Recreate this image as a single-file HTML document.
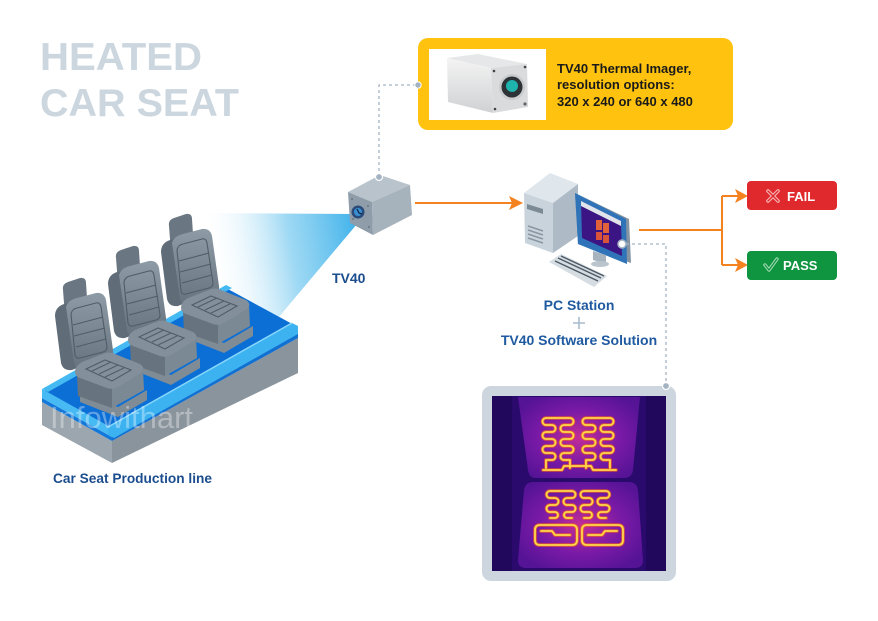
<!DOCTYPE html>
<html><head><meta charset="utf-8"><style>
html,body{margin:0;padding:0;background:#fff;}
svg{display:block;font-family:"Liberation Sans",Arial,sans-serif;}
</style></head><body>
<svg width="878" height="621" viewBox="0 0 878 621" xmlns="http://www.w3.org/2000/svg">
<defs>
  <linearGradient id="beam" gradientUnits="userSpaceOnUse" x1="357" y1="220" x2="205" y2="245">
    <stop offset="0" stop-color="#3fb2ea"/>
    <stop offset="0.45" stop-color="#86cff1" stop-opacity="0.8"/>
    <stop offset="1" stop-color="#ffffff" stop-opacity="0"/>
  </linearGradient>
  <linearGradient id="seatG" x1="0" y1="0" x2="0" y2="1">
    <stop offset="0" stop-color="#8e9ba6"/>
    <stop offset="1" stop-color="#67747f"/>
  </linearGradient>
  <linearGradient id="camSide" x1="0" y1="0" x2="0" y2="1">
    <stop offset="0" stop-color="#f4f4f4"/>
    <stop offset="1" stop-color="#cfd1d3"/>
  </linearGradient>
  <radialGradient id="thermo" cx="0.5" cy="0.5" r="0.6">
    <stop offset="0" stop-color="#c22d96"/>
    <stop offset="0.55" stop-color="#7a1aa6"/>
    <stop offset="1" stop-color="#551396"/>
  </radialGradient>
  <g id="seat">
    <!-- base -->
    <path d="M80,392 L118,407 L147,390 L147,400 L118,417 L80,402 Z" fill="#7f8c96"/>
    <!-- headrest -->
    <path d="M63,290 Q62,284 68,282 L80,278 Q86,277 86,283 L87,298 Q87,303 82,304 L70,307 Q64,308 64,303 Z" fill="#6a7782"/>
    <!-- backrest side -->
    <path d="M55,316 Q55,307 64,304 L70,302 L82,366 L72,370 Q63,371 61,363 Z" fill="#606d78"/>
    <!-- backrest front -->
    <path d="M66,307 Q68,300 77,298 L96,293 Q104,292 106,300 L113,350 Q114,358 107,360 L82,368 Q75,369 74,362 Z" fill="url(#seatG)"/>
    <path d="M71,314 Q72,309 77,308 L96,303 Q100,302 101,307 L107,347 Q107,351 103,352 L80,358 Q76,359 75,355 Z" fill="none" stroke="#505d67" stroke-width="1.1"/>
    <path d="M73,325 L103,317 M74,336 L105,328 M76,347 L106,339" stroke="#505d67" stroke-width="1.1" fill="none"/>
    <!-- cushion faces -->
    <path d="M77,375 L112,388 L112,408 L78,396 Z" fill="#67747f"/>
    <path d="M112,388 L143,369 L144,390 L112,408 Z" fill="#7b8994"/>
    <path d="M75,372 Q75,366 82,362 L103,354 Q109,351 115,354 L140,364 Q146,368 141,373 L118,387 Q113,390 107,388 L80,378 Q75,376 75,372 Z" fill="#83909b"/>
    <path d="M86,369 L105,360 L131,370 L112,381 Z" fill="none" stroke="#505d67" stroke-width="1.1"/>
    <path d="M92,371 L111,362 M99,374 L118,365 M105,377 L124,368" stroke="#505d67" stroke-width="1" fill="none"/>
  </g>
</defs>

<rect width="878" height="621" fill="#fff"/>

<!-- Title -->
<text x="40" y="70" font-size="39" font-weight="bold" fill="#cbd6df" textLength="162" lengthAdjust="spacingAndGlyphs">HEATED</text>
<text x="40" y="116" font-size="39" font-weight="bold" fill="#cbd6df" textLength="199" lengthAdjust="spacingAndGlyphs">CAR SEAT</text>

<!-- Yellow info box -->
<rect x="418" y="38" width="315" height="92" rx="10" fill="#ffc30f"/>
<rect x="429" y="49" width="117" height="71" fill="#fff"/>
<path d="M447,58 L478,54 L527,64 L491,68 Z" fill="#e6e7e8"/>
<path d="M447,58 L491,68 L493,113 L448,102 Z" fill="url(#camSide)"/>
<path d="M491,68 L527,64 L528,107 L493,113 Z" fill="#d9dbdd"/>
<circle cx="512" cy="87" r="13" fill="#c9cbcd"/>
<circle cx="512" cy="87" r="10.5" fill="#2d3236"/>
<circle cx="512" cy="86" r="6" fill="#1fb3ad"/>
<circle cx="494" cy="71" r="1.3" fill="#444"/>
<circle cx="525" cy="67" r="1.3" fill="#444"/>
<circle cx="495" cy="109" r="1.3" fill="#444"/>
<circle cx="525" cy="104" r="1.6" fill="#666"/>
<text font-size="13" font-weight="bold" fill="#1a1a1a">
  <tspan x="557" y="73">TV40 Thermal Imager,</tspan>
  <tspan x="557" y="89">resolution options:</tspan>
  <tspan x="557" y="106">320 x 240 or 640 x 480</tspan>
</text>

<!-- dotted connector camera -> box -->
<path d="M379,177 V85 H418" fill="none" stroke="#a3b3c2" stroke-width="1.3" stroke-dasharray="3,3"/>
<circle cx="418" cy="85" r="3.2" fill="#a3b3c2" stroke="#fff" stroke-width="1"/>

<!-- Beam -->
<path d="M357,214 L200,213 L200,322 L278,318 L357,224 Z" fill="url(#beam)"/>

<!-- Conveyor -->
<path d="M42,402 L112,441 L112,463 L42,425 Z" fill="#9ca6ae"/>
<path d="M112,441 L298,338 L298,373 L112,463 Z" fill="#8a949c"/>
<path d="M42,398 L112,437 L112,441 L42,402 Z" fill="#1478d8"/>
<path d="M112,437 L298,333 L298,338 L112,441 Z" fill="#1270d0"/>
<path d="M42,392 L226,288 L296,326 L112,430 Z" fill="#0c6fd6"/>
<path d="M42,389 L226,285 L232,288 L48,392 Z" fill="#45b9f2"/>
<path d="M42,389 L112,428 L112,437 L42,398 Z" fill="#47baf3"/>
<path d="M108,427 L292,323 L298,326 L298,334 L114,438 L108,435 Z" fill="#3db2f0"/>
<path d="M108,427 L292,323" stroke="#86d6fb" stroke-width="1.5"/>

<!-- Seats -->
<use href="#seat" transform="translate(106,-64)"/>
<use href="#seat" transform="translate(53,-32)"/>
<use href="#seat"/>

<!-- watermark -->
<text x="50" y="428" font-size="31" fill="#ffffff" fill-opacity="0.35">Infowithart</text>

<text x="53" y="483" font-size="14" font-weight="bold" fill="#1b4d8e" textLength="159" lengthAdjust="spacingAndGlyphs">Car Seat Production line</text>

<!-- TV40 camera -->
<path d="M348,192 L380,175 L410,185 L372,202 Z" fill="#b8c3cc"/>
<path d="M348,192 L372,202 L373,235 L350,223 Z" fill="#8f9daa"/>
<path d="M372,202 L410,185 L412,215 L373,235 Z" fill="#a6b2bc"/>
<circle cx="379" cy="177" r="3.5" fill="#a3b3c2" stroke="#fff" stroke-width="1.2"/>
<circle cx="358" cy="212" r="6.5" fill="#2b4c7a"/>
<circle cx="358" cy="212" r="4" fill="#3a8fd0"/>
<path d="M357,209 L359,213 L362,214" stroke="#0e2340" stroke-width="1.2" fill="none"/>
<circle cx="352" cy="199" r="0.9" fill="#5d6b78"/>
<circle cx="368" cy="206" r="0.9" fill="#5d6b78"/>
<circle cx="353" cy="219" r="0.9" fill="#5d6b78"/>
<circle cx="369" cy="227" r="0.9" fill="#5d6b78"/>
<text x="332" y="283" font-size="14" font-weight="bold" fill="#1b4d8e">TV40</text>

<!-- orange arrow camera -> PC -->
<path d="M415,203 H515" stroke="#f58220" stroke-width="2"/>
<path d="M509,196 L523,203 L509,210 L512,203 Z" fill="#f58220"/>

<!-- PC tower -->
<path d="M524,193 L550,173 L578,184 L553,203 Z" fill="#dfe6ec"/>
<path d="M524,193 L553,203 L553,253 L525,243 Z" fill="#c9d3dc"/>
<path d="M553,203 L578,184 L578,236 L553,253 Z" fill="#aebbc6"/>
<path d="M527,204 L543,209 L543,214 L527,209 Z" fill="#7c8a96"/>
<path d="M528,226 L543,231 M528,230 L543,235 M528,234 L543,239 M528,238 L543,243" stroke="#8a97a3" stroke-width="1.6"/>
<!-- monitor -->
<path d="M575,193 L629,219 L631,263 L578,244 Z" fill="#8694a1"/>
<path d="M575,193 L626,219 L627,264 L578,244 Z" fill="#2f74b9"/>
<path d="M581,201 L621,221 L622,256 L582,238 Z" fill="#3c1584"/>
<path d="M581,201 L621,221 L621,226 L581,206 Z" fill="#dfe5ea"/>
<rect x="596" y="220" width="6" height="10" fill="#e0613a"/>
<rect x="603" y="223" width="6" height="10" fill="#e0613a"/>
<rect x="596" y="232" width="6" height="8" fill="#d9533a"/>
<rect x="603" y="235" width="6" height="8" fill="#d9533a"/>
<path d="M593,251 L606,255 L606,264 L593,260 Z" fill="#a7b4bf"/>
<ellipse cx="600" cy="264" rx="9" ry="3" fill="#b9c4cd"/>
<!-- keyboard -->
<path d="M549,262 L561,254 L607,276 L594,287 Z" fill="#d5dde3"/>
<path d="M555,261 L598,281 M558,258 L601,278 M561,256 L604,276" stroke="#4d5863" stroke-width="1.4"/>
<circle cx="622" cy="244" r="4" fill="#fff" stroke="#a3b3c2" stroke-width="1.5"/>

<!-- dotted connector monitor -> thermal image -->
<path d="M626,244 H666 V385" fill="none" stroke="#a3b3c2" stroke-width="1.3" stroke-dasharray="3,3"/>

<text x="579" y="310" font-size="14" font-weight="bold" fill="#1f5aa0" text-anchor="middle">PC Station</text>
<path d="M573,323 H585 M579,317 V329" stroke="#a9bccd" stroke-width="1.6"/>
<text x="579" y="345" font-size="14" font-weight="bold" fill="#1f5aa0" text-anchor="middle">TV40 Software Solution</text>

<!-- orange split to FAIL / PASS -->
<path d="M639,230 H722 M722,196 V265 M722,196 H740 M722,265 H740" stroke="#f58220" stroke-width="2" fill="none"/>
<path d="M735,189 L748,196 L735,203 L738,196 Z" fill="#f58220"/>
<path d="M735,258 L748,265 L735,272 L738,265 Z" fill="#f58220"/>

<rect x="747" y="181" width="90" height="29" rx="4" fill="#e0292d"/>
<path d="M768,191 L778,201 M778,191 L768,201" stroke="#f6b7b7" stroke-width="3.6" stroke-linecap="round"/>
<path d="M768,191 L778,201 M778,191 L768,201" stroke="#e0292d" stroke-width="1.4" stroke-linecap="round"/>
<text x="787" y="201" font-size="13" font-weight="bold" fill="#fff">FAIL</text>

<rect x="747" y="251" width="90" height="29" rx="4" fill="#0f9440"/>
<path d="M765,265 L769,270 L777,259" stroke="#a6dbb6" stroke-width="3.4" fill="none" stroke-linecap="round" stroke-linejoin="round"/>
<path d="M765,265 L769,270 L777,259" stroke="#0f9440" stroke-width="1.3" fill="none" stroke-linecap="round" stroke-linejoin="round"/>
<text x="783" y="270" font-size="13" font-weight="bold" fill="#fff">PASS</text>

<!-- Thermal image -->
<rect x="482" y="386" width="194" height="195" rx="9" fill="#cdd6de"/>
<rect x="492" y="396" width="174" height="175" fill="#2a0a6c"/>
<rect x="492" y="396" width="20" height="175" fill="#22085c"/>
<rect x="646" y="396" width="20" height="175" fill="#22085c"/>
<path d="M518,397 L640,397 L633,470 Q632,478 624,478 L536,478 Q529,478 528,470 Z" fill="url(#thermo)"/>
<path d="M534,482 L628,482 Q637,482 638,490 L643,560 Q643,568 635,568 L526,568 Q518,568 518,560 L524,490 Q525,482 534,482 Z" fill="url(#thermo)"/>
<circle cx="666" cy="386" r="3.5" fill="#a3b3c2" stroke="#fff" stroke-width="1.2"/>

<g fill="none" stroke-linecap="round" stroke-linejoin="round">
  <g stroke="#ff6a10" stroke-width="3.6" stroke-opacity="0.7">
    <path id="w1" d="M546,418 H570
      M546,418 A3.5,3.5 0 0 0 546,425 H552 A3.5,3.5 0 0 1 552,432 H546 A3.5,3.5 0 0 0 546,439 H552 A3.5,3.5 0 0 1 552,446 H546 A3.5,3.5 0 0 0 546,453 H552 A3.5,3.5 0 0 1 552,460 H546 V468
      M570,418 A3.5,3.5 0 0 1 570,425 H564 A3.5,3.5 0 0 0 564,432 H570 A3.5,3.5 0 0 1 570,439 H564 A3.5,3.5 0 0 0 564,446 H570 A3.5,3.5 0 0 1 570,453 H564 A3.5,3.5 0 0 0 564,460 H570 V468
      M586,418 H610
      M586,418 A3.5,3.5 0 0 0 586,425 H592 A3.5,3.5 0 0 1 592,432 H586 A3.5,3.5 0 0 0 586,439 H592 A3.5,3.5 0 0 1 592,446 H586 A3.5,3.5 0 0 0 586,453 H592 A3.5,3.5 0 0 1 592,460 H586 V468
      M610,418 A3.5,3.5 0 0 1 610,425 H604 A3.5,3.5 0 0 0 604,432 H610 A3.5,3.5 0 0 1 610,439 H604 A3.5,3.5 0 0 0 604,446 H610 A3.5,3.5 0 0 1 610,453 H604 A3.5,3.5 0 0 0 604,460 H610 V468
      M543,470 H562 L564,466 H591 L593,470 H616
      M550,491 H572
      M550,491 A3.5,3.5 0 0 0 550,498 H555 A3.5,3.5 0 0 1 555,505 H550 A3.5,3.5 0 0 0 550,512 H555 A3,3 0 0 1 555,518 H550
      M572,491 A3.5,3.5 0 0 1 572,498 H567 A3.5,3.5 0 0 0 567,505 H572 A3.5,3.5 0 0 1 572,512 H567 A3,3 0 0 0 567,518 H572
      M584,491 H606
      M584,491 A3.5,3.5 0 0 0 584,498 H589 A3.5,3.5 0 0 1 589,505 H584 A3.5,3.5 0 0 0 584,512 H589 A3,3 0 0 1 589,518 H584
      M606,491 A3.5,3.5 0 0 1 606,498 H601 A3.5,3.5 0 0 0 601,505 H606 A3.5,3.5 0 0 1 606,512 H601 A3,3 0 0 0 601,518 H606
      M540,525 H572 Q577,525 577,530 V540 Q577,545 572,545 H540 Q535,545 535,540 V530 Q535,525 540,525
      M541,531 H552 L555,535 H570
      M587,525 H618 Q623,525 623,530 V540 Q623,545 618,545 H587 Q582,545 582,540 V530 Q582,525 587,525
      M617,531 H605 L602,535 H588"/>
  </g>
  <use href="#w1" stroke="#ffd84a" stroke-width="1.8" stroke-opacity="1"/>
</g>
</svg>
</body></html>
